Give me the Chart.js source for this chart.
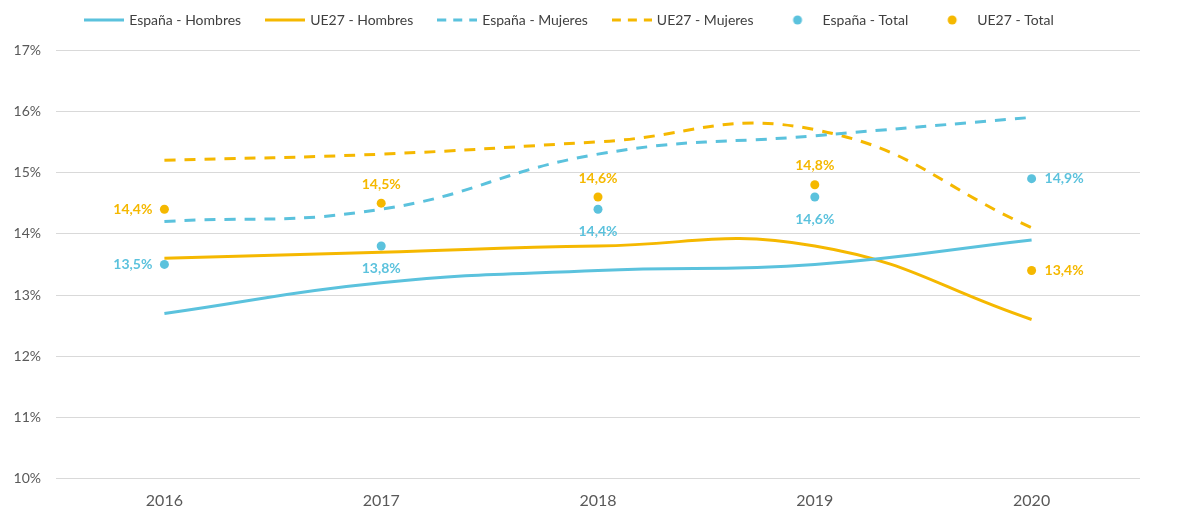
<!DOCTYPE html>
<html><head><meta charset="utf-8">
<script src="https://cdn.jsdelivr.net/npm/chart.js@4.4.0/dist/chart.umd.min.js"></script>
<style>html,body{margin:0;padding:0;background:#fff;}#wrap{width:1180px;height:514px;position:relative;}</style>
</head><body><div id="wrap"><canvas id="c"></canvas></div>
<script>
const years = ['2016','2017','2018','2019','2020'];
const espanaHombres = [12.7, 13.2, 13.4, 13.5, 13.9];
const ue27Hombres = [13.6, 13.7, 13.8, 13.8, 12.6];
const espanaMujeres = [14.2, 14.4, 15.3, 15.6, 15.9];
const ue27Mujeres = [15.2, 15.3, 15.5, 15.7, 14.1];
const espanaTotal = [13.5, 13.8, 14.4, 14.6, 14.9];
const ue27Total = [14.4, 14.5, 14.6, 14.8, 13.4];
const yTicks = [10, 11, 12, 13, 14, 15, 16, 17];

const BLUE = '#5BC2DD';
const GOLD = '#F5B800';
const FONT = 'Lato, "Open Sans", sans-serif';

function symbol(kind, color, dash) {
  const cv = document.createElement('canvas');
  cv.width = 40; cv.height = 10;
  const g = cv.getContext('2d');
  if (kind === 'line') {
    g.strokeStyle = color; g.lineWidth = 3;
    g.setLineDash(dash || []);
    g.beginPath(); g.moveTo(0, 5); g.lineTo(40, 5); g.stroke();
  } else {
    g.fillStyle = color; g.beginPath(); g.arc(20, 5, 4.5, 0, Math.PI * 2); g.fill();
  }
  return cv;
}

const labelPos = {
  4: ['left', 'below', 'below', 'below', 'right'],
  5: ['left', 'above', 'above', 'above', 'right']
};

const labelPlugin = {
  id: 'totLabels',
  afterDatasetsDraw(chart) {
    const ctx = chart.ctx;
    ctx.save();
    ctx.font = 'bold 14px ' + FONT;
    [4, 5].forEach(di => {
      const ds = chart.data.datasets[di];
      const meta = chart.getDatasetMeta(di);
      meta.data.forEach((pt, i) => {
        const txt = ds.data[i].toFixed(1).replace('.', ',') + '%';
        const pos = labelPos[di][i];
        ctx.fillStyle = ds.pointBackgroundColor;
        let x = pt.x, y = pt.y;
        ctx.textBaseline = 'middle';
        if (pos === 'left') { ctx.textAlign = 'right'; x -= 12; }
        else if (pos === 'right') { ctx.textAlign = 'left'; x += 13; }
        else if (pos === 'above') { ctx.textAlign = 'center'; y -= 19; }
        else { ctx.textAlign = 'center'; y += 22; }
        ctx.fillText(txt, x, y);
      });
    });
    ctx.restore();
  }
};

const legendSpace = {
  id: 'legendSpace',
  beforeInit(chart) {
    const lg = chart.legend;
    if (!lg) return;
    const fit = lg.fit;
    lg.fit = function () { fit.call(this); this.height += 13; };
  }
};

const lineDs = (label, data, color, dash) => ({
  type: 'line', label, data, borderColor: color, backgroundColor: color,
  borderWidth: 3, borderDash: dash || [], tension: 0.45, pointRadius: 0,
  pointHoverRadius: 0, fill: false, _sym: symbol('line', color, dash ? [9, 7] : null)
});
const dotDs = (label, data, color) => ({
  type: 'line', label, data, showLine: false, pointRadius: 4.5, pointBorderWidth: 0,
  pointBackgroundColor: color, pointBorderColor: color, backgroundColor: color,
  _sym: symbol('dot', color)
});

new Chart(document.getElementById('c'), {
  data: {
    labels: years,
    datasets: [
      lineDs('España - Hombres', espanaHombres, BLUE),
      lineDs('UE27 - Hombres', ue27Hombres, GOLD),
      lineDs('España - Mujeres', espanaMujeres, BLUE, [11, 9]),
      lineDs('UE27 - Mujeres', ue27Mujeres, GOLD, [11, 9]),
      dotDs('España - Total', espanaTotal, BLUE),
      dotDs('UE27 - Total', ue27Total, GOLD)
    ]
  },
  options: {
    responsive: true, maintainAspectRatio: false, animation: false,
    layout: { padding: { left: 0, right: 40, top: -13, bottom: -8 } },
    plugins: {
      tooltip: { enabled: false },
      legend: {
        position: 'top',
        labels: {
          usePointStyle: true, pointStyleWidth: 36, boxHeight: 10,
          padding: 26, color: '#404040',
          font: { family: FONT, size: 14 },
          generateLabels(chart) {
            return chart.data.datasets.map((d, i) => ({
              text: d.label, pointStyle: d._sym, fillStyle: 'transparent',
              strokeStyle: 'transparent', lineWidth: 0, hidden: false,
              datasetIndex: i, fontColor: '#404040'
            }));
          }
        }
      }
    },
    scales: {
      x: {
        type: 'category', offset: true,
        grid: { display: false, drawTicks: false },
        border: { display: false },
        ticks: { color: '#595959', font: { family: FONT, size: 16 }, padding: 12 }
      },
      y: {
        min: 10, max: 17,
        afterBuildTicks(s) { s.ticks = yTicks.map(v => ({ value: v })); },
        afterFit(s) { s.width = 56; },
        grid: { color: '#D9D9D9', lineWidth: 1, drawTicks: false },
        border: { display: false },
        ticks: { color: '#595959', font: { family: FONT, size: 14 }, padding: 15,
          callback: v => v + '%' }
      }
    }
  },
  plugins: [legendSpace, labelPlugin]
});
</script></body></html>
